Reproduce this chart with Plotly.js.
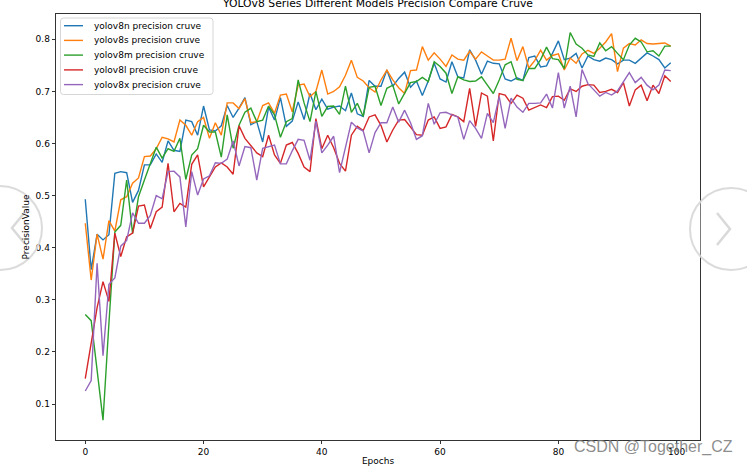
<!DOCTYPE html>
<html>
<head>
<meta charset="utf-8">
<script src="https://cdn.plot.ly/plotly-3.0.1.min.js"></script>
<style>html,body{margin:0;padding:0;background:#fff;}#chart{width:747px;height:466px;}</style>
</head>
<body>
<div id="chart"></div>
<script>
// ---- data ----
const epochs = Array.from({length: 100}, (_, i) => i);

const seriesNames = [
  "yolov8n precision cruve",
  "yolov8s precision cruve",
  "yolov8m precision cruve",
  "yolov8l precision cruve",
  "yolov8x precision cruve"
];

const yolov8n = [0.493,0.358,0.426,0.415,0.425,0.543,0.546,0.544,0.487,0.510,
  0.559,0.559,0.580,0.564,0.605,0.587,0.585,0.645,0.642,0.616,
  0.672,0.626,0.624,0.634,0.673,0.650,0.668,0.688,0.636,0.642,
  0.603,0.670,0.645,0.688,0.633,0.643,0.680,0.646,0.696,0.665,
  0.685,0.666,0.670,0.672,0.663,0.697,0.657,0.652,0.721,0.710,
  0.710,0.741,0.710,0.725,0.737,0.708,0.720,0.692,0.720,0.754,
  0.724,0.718,0.757,0.728,0.726,0.780,0.760,0.733,0.758,0.754,
  0.753,0.724,0.720,0.726,0.721,0.765,0.768,0.747,0.749,0.773,
  0.797,0.761,0.764,0.773,0.745,0.768,0.761,0.758,0.764,0.761,
  0.753,0.760,0.760,0.754,0.765,0.774,0.768,0.761,0.745,0.755];

const yolov8s = [0.447,0.338,0.426,0.378,0.452,0.432,0.492,0.498,0.524,0.534,
  0.575,0.576,0.590,0.612,0.609,0.603,0.645,0.635,0.616,0.642,
  0.650,0.610,0.640,0.616,0.678,0.678,0.667,0.686,0.640,0.642,
  0.673,0.678,0.658,0.693,0.695,0.661,0.712,0.714,0.690,0.700,
  0.741,0.695,0.700,0.709,0.731,0.760,0.727,0.720,0.707,0.699,
  0.722,0.741,0.722,0.707,0.696,0.740,0.741,0.786,0.760,0.774,
  0.762,0.748,0.770,0.762,0.760,0.777,0.762,0.776,0.768,0.760,
  0.760,0.762,0.802,0.759,0.786,0.745,0.759,0.779,0.760,0.769,
  0.772,0.741,0.764,0.754,0.772,0.779,0.773,0.783,0.795,0.811,
  0.738,0.783,0.792,0.789,0.799,0.792,0.791,0.792,0.793,0.787];

const yolov8m = [0.272,0.260,0.165,0.069,0.255,0.430,0.443,0.530,0.427,0.498,
  0.530,0.560,0.593,0.572,0.590,0.585,0.610,0.531,0.578,0.590,
  0.635,0.622,0.622,0.574,0.655,0.591,0.635,0.660,0.668,0.642,
  0.645,0.672,0.655,0.612,0.642,0.648,0.722,0.678,0.642,0.700,
  0.652,0.671,0.672,0.656,0.710,0.660,0.677,0.652,0.708,0.710,
  0.673,0.706,0.712,0.676,0.698,0.717,0.719,0.727,0.719,0.757,
  0.748,0.735,0.696,0.728,0.722,0.719,0.720,0.728,0.712,0.696,
  0.722,0.751,0.757,0.723,0.721,0.744,0.744,0.761,0.785,0.763,
  0.761,0.744,0.813,0.791,0.783,0.770,0.767,0.793,0.778,0.786,
  0.773,0.761,0.789,0.802,0.795,0.776,0.778,0.768,0.787,0.787];

const yolov8l = [0.149,0.218,0.285,0.335,0.297,0.428,0.383,0.421,0.428,0.480,
  0.482,0.437,0.469,0.478,0.562,0.469,0.485,0.478,0.560,0.578,
  0.517,0.536,0.555,0.563,0.555,0.541,0.634,0.610,0.597,0.582,
  0.575,0.616,0.578,0.562,0.597,0.602,0.581,0.555,0.546,0.648,
  0.590,0.616,0.592,0.562,0.547,0.616,0.633,0.625,0.651,0.655,
  0.635,0.603,0.626,0.645,0.646,0.632,0.617,0.616,0.645,0.651,
  0.629,0.632,0.656,0.651,0.642,0.706,0.633,0.697,0.691,0.605,
  0.696,0.693,0.677,0.693,0.687,0.664,0.669,0.674,0.669,0.690,
  0.691,0.683,0.705,0.700,0.710,0.713,0.712,0.698,0.700,0.704,
  0.698,0.717,0.672,0.703,0.712,0.682,0.712,0.696,0.730,0.719];

const yolov8x = [0.125,0.145,0.370,0.193,0.330,0.342,0.403,0.414,0.467,0.447,
  0.447,0.462,0.500,0.494,0.546,0.547,0.536,0.440,0.546,0.501,
  0.532,0.538,0.563,0.562,0.570,0.605,0.557,0.594,0.592,0.530,
  0.591,0.594,0.597,0.561,0.561,0.586,0.608,0.606,0.568,0.643,
  0.582,0.597,0.614,0.544,0.590,0.641,0.630,0.624,0.582,0.621,
  0.640,0.640,0.670,0.641,0.664,0.640,0.608,0.615,0.677,0.637,
  0.659,0.660,0.655,0.651,0.608,0.644,0.629,0.610,0.658,0.640,
  0.690,0.629,0.687,0.670,0.660,0.677,0.677,0.678,0.695,0.668,
  0.736,0.668,0.710,0.651,0.742,0.715,0.703,0.691,0.698,0.693,
  0.701,0.719,0.736,0.717,0.727,0.712,0.703,0.712,0.741,0.740];

const seriesValues = [yolov8n, yolov8s, yolov8m, yolov8l, yolov8x];
const seriesColors = ["#1f77b4", "#ff7f0e", "#2ca02c", "#d62728", "#9467bd"];

const xTickVals = [0, 20, 40, 60, 80, 100];
const yTickVals = [0.1, 0.2, 0.3, 0.4, 0.5, 0.6, 0.7, 0.8];
const yTickText = ["0.1", "0.2", "0.3", "0.4", "0.5", "0.6", "0.7", "0.8"];

const chartTitle = "YOLOv8 Series Different Models Precision Compare Cruve";
const xTitle = "Epochs";
const yTitle = "PrecisionValue";
const watermark = "CSDN @Together_CZ";

// ---- geometry ----
const FIG_W = 747, FIG_H = 466;
const M = {l: 56, r: 47, t: 14, b: 26};
const PW = FIG_W - M.l - M.r, PH = FIG_H - M.t - M.b;
const px = x => (x - M.l) / PW;          // pixel x -> paper x
const py = y => (FIG_H - M.b - y) / PH;  // pixel y -> paper y
const FONT = "DejaVu Sans, Arial, sans-serif";

const traces = seriesValues.map((vals, k) => ({
  type: "scatter", mode: "lines",
  x: epochs, y: vals, name: seriesNames[k],
  line: {color: seriesColors[k], width: 1.4},
  showlegend: false, hoverinfo: "x+y+name"
}));

// custom matplotlib-style legend
const shapes = [];
const annotations = [];
const lgX0 = 60.5, lgX1 = 213, lgY0 = 18, lgY1 = 94.5, rr = 3;
const rx = rr / PW, ry = rr / PH;
const a = px(lgX0), b = px(lgX1), c = py(lgY0), d = py(lgY1);
shapes.push({
  type: "path", xref: "paper", yref: "paper", layer: "above",
  path: `M ${a + rx} ${c} L ${b - rx} ${c} Q ${b} ${c} ${b} ${c - ry} L ${b} ${d + ry} Q ${b} ${d} ${b - rx} ${d} L ${a + rx} ${d} Q ${a} ${d} ${a} ${d + ry} L ${a} ${c - ry} Q ${a} ${c} ${a + rx} ${c} Z`,
  fillcolor: "rgba(255,255,255,0.8)", line: {color: "#cccccc", width: 0.8}
});
const rowY = [25.7, 40.4, 55.1, 69.9, 84.6];
seriesNames.forEach((nm, k) => {
  shapes.push({type: "line", xref: "paper", yref: "paper", layer: "above",
    x0: px(64), x1: px(83), y0: py(rowY[k]), y1: py(rowY[k]),
    line: {color: seriesColors[k], width: 1.4}});
  annotations.push({xref: "paper", yref: "paper", x: px(91.5), y: py(rowY[k]),
    xanchor: "left", yanchor: "middle", showarrow: false, text: nm,
    font: {family: FONT, size: 9, color: "#000"}});
});

// viewer overlay: side navigation circles
function circle(cx, cy, r) {
  return {type: "circle", xref: "paper", yref: "paper", layer: "above",
    x0: px(cx - r), x1: px(cx + r), y0: py(cy + r), y1: py(cy - r),
    fillcolor: "rgba(255,255,255,0.35)", line: {color: "rgba(215,215,215,0.9)", width: 2}};
}
shapes.push(circle(0, 228, 42));
shapes.push(circle(731, 229, 41));
shapes.push({type: "path", xref: "paper", yref: "paper", layer: "above",
  path: `M ${px(25)} ${py(212)} L ${px(12)} ${py(228)} L ${px(25)} ${py(244)}`,
  line: {color: "rgba(215,215,215,0.95)", width: 2.5}});
shapes.push({type: "path", xref: "paper", yref: "paper", layer: "above",
  path: `M ${px(717)} ${py(213)} L ${px(730)} ${py(229)} L ${px(717)} ${py(245)}`,
  line: {color: "rgba(215,215,215,0.95)", width: 2.5}});

annotations.push({xref: "paper", yref: "paper", x: px(735), y: py(447),
  xanchor: "right", yanchor: "middle", showarrow: false, text: watermark,
  font: {family: "Liberation Sans, Arial, sans-serif", size: 16, color: "rgba(120,120,120,0.85)"}});

const axisCommon = {
  showgrid: false, zeroline: false, showline: true, mirror: true,
  linecolor: "#000", linewidth: 0.8, ticks: "outside", ticklen: 3.5,
  tickwidth: 0.8, tickcolor: "#000",
  tickfont: {family: FONT, size: 9, color: "#000"}
};

const layout = {
  width: FIG_W, height: FIG_H,
  margin: {l: M.l, r: M.r, t: M.t, b: M.b, pad: 0},
  paper_bgcolor: "#fff", plot_bgcolor: "#fff",
  showlegend: false,
  title: {text: chartTitle, font: {family: FONT, size: 10.8, color: "#000"},
    x: px(378), xref: "paper", xanchor: "center",
    y: 1 - 3.5 / FIG_H, yref: "container", yanchor: "middle"},
  xaxis: Object.assign({}, axisCommon, {
    range: [-4.95, 103.95], tickmode: "array", tickvals: xTickVals,
    title: {text: xTitle, font: {family: FONT, size: 9, color: "#000"}, standoff: 6}
  }),
  yaxis: Object.assign({}, axisCommon, {
    range: [0.031, 0.8486], tickmode: "array", tickvals: yTickVals, ticktext: yTickText,
    title: {text: yTitle, font: {family: FONT, size: 9, color: "#000"}, standoff: 4}
  }),
  shapes: shapes, annotations: annotations
};

Plotly.newPlot("chart", traces, layout, {displayModeBar: false, staticPlot: true});
</script>
</body>
</html>
